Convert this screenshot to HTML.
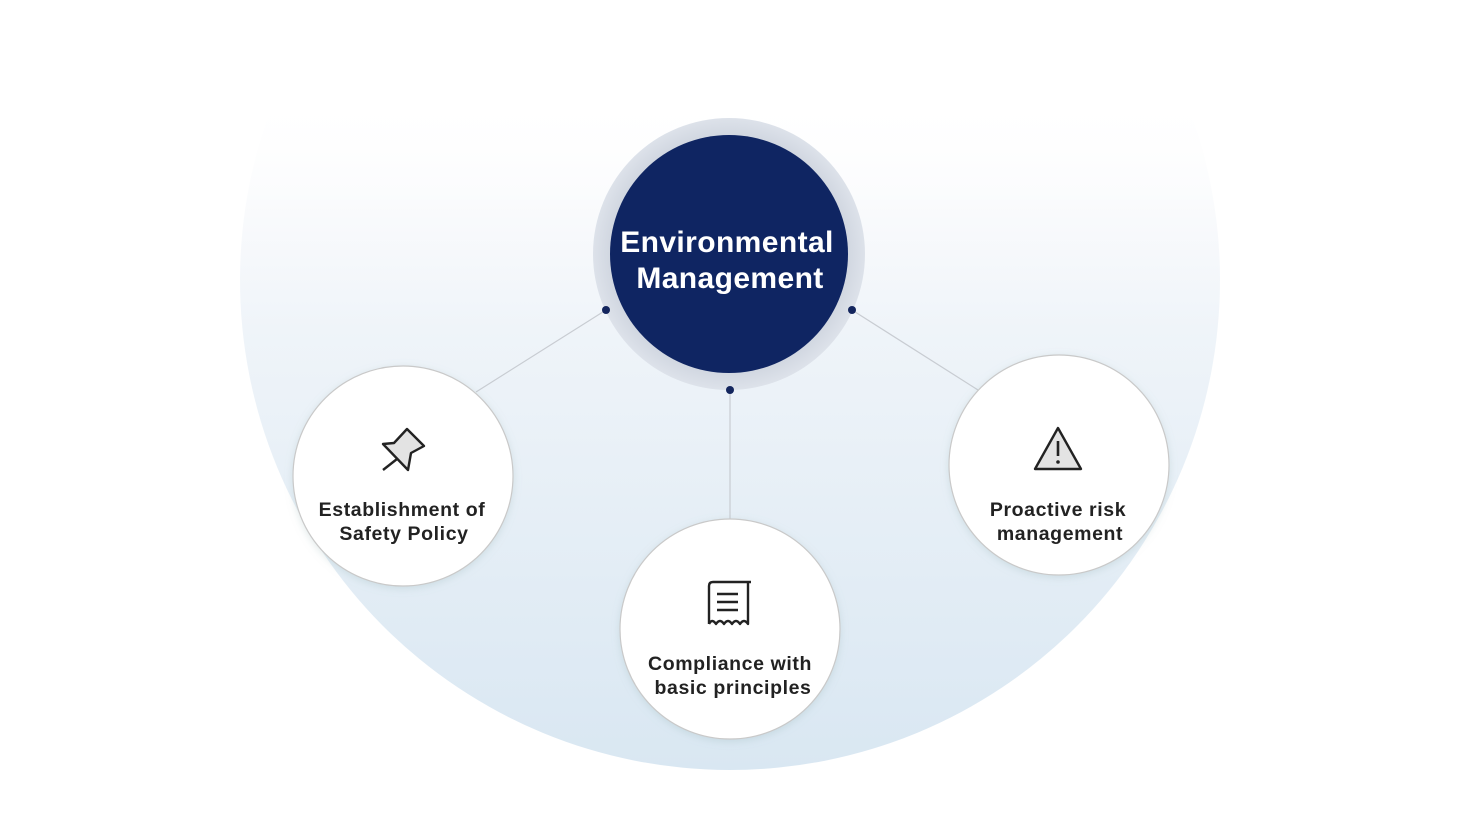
<!DOCTYPE html>
<html><head><meta charset="utf-8"><style>
html,body{margin:0;padding:0;background:#fff;}
svg{display:block}
text{font-family:"Liberation Sans",sans-serif;font-weight:bold}
</style></head><body>
<svg width="1460" height="824" viewBox="0 0 1460 824">
<defs>
<linearGradient id="bg" gradientUnits="userSpaceOnUse" x1="0" y1="90" x2="0" y2="770">
<stop offset="0" stop-color="#ffffff" stop-opacity="0"/>
<stop offset="0.2" stop-color="#f6f8fb" stop-opacity="0.8"/>
<stop offset="0.35" stop-color="#eff4f9"/>
<stop offset="1" stop-color="#d9e7f2"/>
</linearGradient>
<radialGradient id="halo" cx="0.5" cy="0.5" r="0.5">
<stop offset="0.85" stop-color="#cfd5df"/>
<stop offset="1" stop-color="#dde2ea"/>
</radialGradient>
<filter id="sh" x="-20%" y="-20%" width="140%" height="140%">
<feDropShadow dx="0" dy="2" stdDeviation="4" flood-color="#8aa" flood-opacity="0.25"/>
</filter>
</defs>
<circle cx="730" cy="280" r="490" fill="url(#bg)"/>
<g stroke="#c8ccd2" stroke-width="1.2">
<line x1="606" y1="310" x2="476" y2="392"/>
<line x1="852" y1="310" x2="978" y2="390"/>
<line x1="730" y1="390" x2="730" y2="519"/>
</g>
<circle cx="729" cy="254" r="136" fill="url(#halo)"/>
<circle cx="729" cy="254" r="119" fill="#0f2562"/>
<text x="727" y="252" fill="#fff" font-size="30" letter-spacing="0.4" text-anchor="middle">Environmental</text>
<text x="730" y="288" fill="#fff" font-size="30" letter-spacing="0.4" text-anchor="middle">Management</text>
<g fill="#14265e">
<circle cx="606" cy="310" r="4"/><circle cx="852" cy="310" r="4"/><circle cx="730" cy="390" r="4"/>
</g>
<g fill="#fff" stroke="#c9c9c9" stroke-width="1.2" filter="url(#sh)">
<circle cx="403" cy="476" r="110"/>
<circle cx="730" cy="629" r="110"/>
<circle cx="1059" cy="465" r="110"/>
</g>
<g stroke="#222" stroke-width="2.4" stroke-linejoin="round" fill="none">
<path d="M407,429 L424,446 L411,453 L408,470 L383,444 L394,443 Z" fill="#e3e3e3"/>
<line x1="397" y1="459" x2="383" y2="470"/>
<path d="M709,624 V586 Q709,582 713,582 H751"/>
<path d="M748,583 V624 Q744,618 740,624 Q736,618 732,624 Q728,618 724,624 Q720,618 716,624 Q712,618 709,624"/>
<line x1="717" y1="594" x2="738" y2="594"/><line x1="717" y1="602" x2="738" y2="602"/><line x1="717" y1="610" x2="738" y2="610"/>
<path d="M1058,428 L1081,469 H1035 Z" fill="#e3e3e3"/>
</g>
<line x1="1058" y1="441" x2="1058" y2="456" stroke="#222" stroke-width="2.6"/>
<circle cx="1058" cy="462" r="1.8" fill="#222"/>
<g fill="#222" font-size="19.5" letter-spacing="0.6" text-anchor="middle">
<text x="402" y="516">Establishment of</text>
<text x="404" y="540">Safety Policy</text>
<text x="730" y="670">Compliance with</text>
<text x="733" y="694">basic principles</text>
<text x="1058" y="516">Proactive risk</text>
<text x="1060" y="540">management</text>
</g>
</svg>
</body></html>
